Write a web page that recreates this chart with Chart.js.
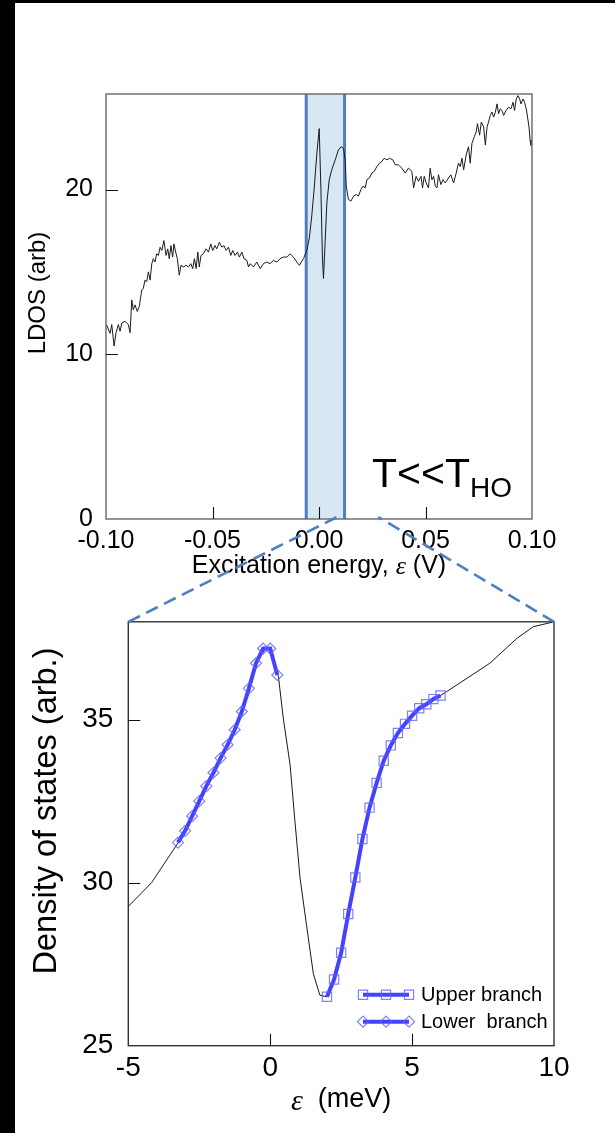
<!DOCTYPE html>
<html>
<head>
<meta charset="utf-8">
<script src="https://cdn.jsdelivr.net/npm/chart.js@4.4.1/dist/chart.umd.min.js"></script>
<style>
  html, body { margin: 0; padding: 0; background: #000; }
  #page { position: relative; width: 615px; height: 1133px; overflow: hidden; }
  #paper { position: absolute; left: 15px; top: 3px; right: 0; bottom: 0; background: #fff; }
  canvas { position: absolute; left: 0; }
  #ldos { top: 0; }
  #dos { top: 590px; }
  #links { top: 0; pointer-events: none; }
</style>
</head>
<body>
<div id="page">
  <div id="paper"></div>
  <canvas id="ldos" width="615" height="590"></canvas>
  <canvas id="dos" width="615" height="543"></canvas>
  <canvas id="links" width="615" height="1133"></canvas>
</div>
<script>
// LDOS over the wide bias range (V)
const ldosEnergy = [
  -0.0997, -0.0981, -0.0973, -0.0962, -0.0953, -0.0942, -0.0934, -0.0926, -0.0911, -0.0895,
  -0.0887, -0.0879, -0.0872, -0.0864, -0.0853, -0.0844, -0.0832, -0.0825, -0.0817, -0.0809,
  -0.0801, -0.0793, -0.0785, -0.0778, -0.0770, -0.0762, -0.0754, -0.0746, -0.0738, -0.0728,
  -0.0718, -0.0710, -0.0703, -0.0695, -0.0687, -0.0681, -0.0671, -0.0665, -0.0656, -0.0648,
  -0.0637, -0.0624, -0.0613, -0.0602, -0.0593, -0.0585, -0.0577, -0.0569, -0.0562, -0.0554,
  -0.0543, -0.0530, -0.0519, -0.0508, -0.0499, -0.0488, -0.0480, -0.0468, -0.0456, -0.0446,
  -0.0436, -0.0425, -0.0414, -0.0405, -0.0394, -0.0383, -0.0374, -0.0362, -0.0352, -0.0339,
  -0.0331, -0.0323, -0.0308, -0.0292, -0.0276, -0.0261, -0.0245, -0.0230, -0.0214, -0.0198,
  -0.0183, -0.0167, -0.0151, -0.0136, -0.0120, -0.0104, -0.0092, -0.0073, -0.0057, -0.0045,
  -0.0034, -0.0023, -0.0010, 0.0001, 0.0009, 0.0016, 0.0021, 0.0029, 0.0037, 0.0048,
  0.0060, 0.0076, 0.0091, 0.0104, 0.0115, 0.0123, 0.0128, 0.0138, 0.0150, 0.0162,
  0.0175, 0.0185, 0.0197, 0.0206, 0.0217, 0.0225, 0.0237, 0.0248, 0.0259, 0.0272,
  0.0284, 0.0295, 0.0306, 0.0319, 0.0331, 0.0347, 0.0358, 0.0373, 0.0389, 0.0405,
  0.0420, 0.0436, 0.0444, 0.0456, 0.0467, 0.0479, 0.0486, 0.0494, 0.0503, 0.0514,
  0.0522, 0.0530, 0.0538, 0.0546, 0.0554, 0.0561, 0.0572, 0.0582, 0.0593, 0.0608,
  0.0619, 0.0632, 0.0644, 0.0655, 0.0663, 0.0671, 0.0679, 0.0691, 0.0702, 0.0710,
  0.0718, 0.0729, 0.0738, 0.0744, 0.0754, 0.0762, 0.0773, 0.0781, 0.0789, 0.0796,
  0.0804, 0.0812, 0.0820, 0.0828, 0.0836, 0.0843, 0.0851, 0.0859, 0.0867, 0.0878,
  0.0890, 0.0901, 0.0911, 0.0918, 0.0926, 0.0934, 0.0942, 0.0948, 0.0958, 0.0965,
  0.0973, 0.0979, 0.0986, 0.0991, 0.0995, 0.1000
];
const ldosValue = [
  11.78, 11.27, 11.8, 10.5, 11.3, 11.8, 11.4, 11.9, 12.0, 11.8,
  11.3, 13.3, 12.7, 13.0, 12.6, 12.9, 13.9, 14.0, 14.5, 14.4,
  15.0, 14.5, 15.5, 15.8, 15.6, 16.1, 16.0, 16.5, 16.3, 16.9,
  16.0, 16.4, 15.8, 16.6, 15.9, 16.7, 16.1, 15.8, 14.8, 15.4,
  15.3, 15.4, 15.3, 15.5, 15.2, 15.8, 15.2, 16.2, 15.3, 16.0,
  16.1, 16.4, 16.2, 16.7, 16.3, 16.6, 16.4, 16.8, 16.5, 16.6,
  16.3, 16.5, 16.0, 16.3, 16.0, 16.2, 15.9, 16.2, 15.8, 15.7,
  15.3, 15.5, 15.3, 15.6, 15.2, 15.5, 15.6, 15.5, 15.7, 15.6,
  15.8, 15.9, 15.9, 16.1, 15.9, 15.6, 15.4, 15.8, 16.3, 17.1,
  18.4, 20.0, 22.2, 23.7, 20.0, 15.9, 14.6, 16.9, 19.2, 20.6,
  21.2, 21.8, 22.4, 22.6, 22.5, 21.8, 20.2, 19.4, 19.3, 19.6,
  19.7, 19.6, 20.0, 20.2, 20.1, 20.6, 20.7, 21.0, 21.1, 21.4,
  21.6, 21.7, 21.9, 21.8, 21.9, 21.8, 21.5, 21.5, 21.3, 21.0,
  21.3, 21.1, 20.1, 20.8, 20.5, 20.8, 20.1, 20.8, 20.4, 20.1,
  21.3, 20.6, 20.8, 20.2, 20.1, 20.9, 20.3, 20.6, 20.4, 20.7,
  20.9, 20.4, 21.0, 21.6, 21.4, 21.9, 21.2, 22.1, 22.6, 21.6,
  22.8, 23.2, 23.5, 24.0, 23.3, 24.1, 23.8, 22.7, 23.8, 24.1,
  24.5, 24.7, 24.4, 24.7, 25.2, 24.6, 24.9, 24.8, 24.5, 24.8,
  25.0, 24.9, 25.3, 24.8, 25.5, 25.7, 25.5, 25.2, 25.5, 25.3,
  24.9, 24.4, 23.8, 23.0, 22.7, 22.6
];
const energyTicks = [-0.10, -0.05, 0.00, 0.05, 0.10];
const ldosTicks = [0, 10, 20];
const bandEdges = [-0.006, 0.012];   // shaded window
const linkFrom = [0.0085, 0.0278];    // where the dashed connectors leave the upper axis

// Zoomed density of states (meV)
const dosEnergy = [
  -5, -4.18, -3.24, -2.5, -2.0, -1.5, -1.0, -0.5, -0.16, 0.0,
  0.29, 0.46, 0.70, 0.87, 1.05, 1.29, 1.52, 1.75, 1.99, 2.25,
  2.5, 2.75, 3.0, 3.25, 3.5, 3.75, 4.0, 4.5, 5.0, 5.5,
  6.0, 6.22, 7.74, 8.69, 9.27, 10
];
const dosValue = [
  29.27, 30.0, 31.23, 32.50, 33.37, 34.23, 35.25, 36.73, 37.18, 37.17,
  36.32, 35.05, 33.62, 31.9, 30.16, 28.63, 27.21, 26.55, 26.50, 27.0,
  27.85, 29.04, 30.16, 31.34, 32.30, 33.06, 33.74, 34.59, 35.12, 35.47,
  35.74, 35.86, 36.73, 37.49, 37.85, 38.0
];
const upperEnergy = [2.0, 2.25, 2.5, 2.75, 3.0, 3.25, 3.5, 3.75, 4.0, 4.25, 4.5, 4.75, 5.0, 5.25, 5.5, 5.75, 6.0];
const upperValue = [26.50, 27.03, 27.85, 29.04, 30.16, 31.34, 32.30, 33.06, 33.74, 34.21, 34.59, 34.87, 35.12, 35.35, 35.47, 35.63, 35.74];
const lowerEnergy = [-3.25, -3.0, -2.75, -2.5, -2.25, -2.0, -1.75, -1.5, -1.25, -1.0, -0.75, -0.5, -0.25, 0.0, 0.25];
const lowerValue = [31.23, 31.59, 32.04, 32.50, 32.96, 33.37, 33.82, 34.23, 34.69, 35.25, 35.96, 36.73, 37.18, 37.18, 36.37];
const dosXTicks = [-5, 0, 5, 10];
const dosYTicks = [25, 30, 35];

const pts = (xs, ys) => xs.map((x, i) => ({ x: x, y: ys[i] }));

const SANS = "'Liberation Sans', Arial, Helvetica, sans-serif";
const SERIF_I = "italic {s}px 'Liberation Serif', 'Times New Roman', serif";
Chart.defaults.font.family = SANS;
Chart.defaults.color = '#000';

// box around the plot plus inward tick marks
const frameTicks = {
  id: 'frameTicks',
  afterDraw(chart, args, opts) {
    const { ctx, chartArea: a } = chart;
    const { x, y } = chart.scales;
    ctx.save();
    ctx.strokeStyle = opts.frameColor;
    ctx.lineWidth = 1.4;
    ctx.strokeRect(a.left, a.top, a.right - a.left, a.bottom - a.top);
    ctx.strokeStyle = '#111';
    ctx.lineWidth = 1.1;
    ctx.beginPath();
    x.ticks.forEach(t => {
      const px = Math.round(x.getPixelForValue(t.value)) + 0.5;
      if (px > a.left + 2 && px < a.right - 2) { ctx.moveTo(px, a.bottom); ctx.lineTo(px, a.bottom - opts.len); }
    });
    y.ticks.forEach(t => {
      const py = Math.round(y.getPixelForValue(t.value)) + 0.5;
      if (py > a.top + 2 && py < a.bottom - 2) { ctx.moveTo(a.left, py); ctx.lineTo(a.left + opts.len, py); }
    });
    ctx.stroke();
    ctx.restore();
  }
};

// axis captions: rotated one on the left, mixed-font one under the x axis
const captions = {
  id: 'captions',
  afterDraw(chart, args, opts) {
    const { ctx, chartArea: a } = chart;
    ctx.save();
    ctx.fillStyle = '#000';
    ctx.textBaseline = 'middle';
    ctx.save();
    ctx.translate(opts.yX, opts.yY);
    ctx.rotate(-Math.PI / 2);
    ctx.font = opts.yFont;
    ctx.textAlign = 'center';
    ctx.fillText(opts.yText, 0, 0);
    ctx.restore();
    ctx.textAlign = 'left';
    const widths = opts.xParts.map(p => { ctx.font = p.font; return ctx.measureText(p.text).width; });
    let x = (a.left + a.right) / 2 - widths.reduce((s, w) => s + w, 0) / 2;
    opts.xParts.forEach((p, i) => {
      ctx.font = p.font;
      ctx.fillText(p.text, x, opts.xY + (p.dy || 0));
      x += widths[i];
    });
    ctx.restore();
  }
};

// shaded energy window behind the curve
const band = {
  id: 'band',
  beforeDatasetsDraw(chart) {
    const { ctx, chartArea: a } = chart;
    const x = chart.scales.x;
    const x0 = x.getPixelForValue(bandEdges[0]);
    const x1 = x.getPixelForValue(bandEdges[1]);
    ctx.save();
    ctx.fillStyle = '#d7e7f4';
    ctx.fillRect(x0, a.top, x1 - x0, a.bottom - a.top);
    ctx.strokeStyle = '#4f7fc0';
    ctx.lineWidth = 3;
    ctx.beginPath();
    ctx.moveTo(x0, a.top); ctx.lineTo(x0, a.bottom);
    ctx.moveTo(x1, a.top); ctx.lineTo(x1, a.bottom);
    ctx.stroke();
    ctx.restore();
  }
};

// temperature note in the lower right corner
const tempNote = {
  id: 'tempNote',
  afterDraw(chart) {
    const { ctx, chartArea: a } = chart;
    ctx.save();
    ctx.fillStyle = '#000';
    ctx.textBaseline = 'alphabetic';
    ctx.font = '41px ' + SANS;
    const main = 'T<<T';
    const x = a.right - 160, y = a.bottom - 32;
    ctx.fillText(main, x, y);
    const w = ctx.measureText(main).width;
    ctx.font = '28px ' + SANS;
    ctx.fillText('HO', x + w, y + 10);
    ctx.restore();
  }
};

// legend with a line sample and three markers per row
const branchLegend = {
  id: 'branchLegend',
  afterDraw(chart) {
    const { ctx, chartArea: a } = chart;
    const rows = [chart.data.datasets[1], chart.data.datasets[2]];
    ctx.save();
    rows.forEach((ds, i) => {
      const y = a.bottom - 51 + i * 27;
      const x0 = a.right - 191, x1 = a.right - 145;
      ctx.strokeStyle = ds.borderColor;
      ctx.lineWidth = ds.borderWidth;
      ctx.beginPath(); ctx.moveTo(x0, y); ctx.lineTo(x1, y); ctx.stroke();
      ctx.strokeStyle = ds.pointBorderColor;
      ctx.fillStyle = 'rgba(0,0,0,0)';
      ctx.lineWidth = ds.pointBorderWidth;
      [x0, (x0 + x1) / 2, x1].forEach(px => {
        Chart.helpers.drawPoint(ctx, { pointStyle: ds.pointStyle, rotation: 0, radius: ds.pointRadius, borderWidth: ds.pointBorderWidth }, px, y);
      });
      ctx.fillStyle = '#000';
      ctx.font = '20px ' + SANS;
      ctx.textBaseline = 'middle';
      ctx.fillText(ds.label, a.right - 133, y + 1);
    });
    ctx.restore();
  }
};

const ldosChart = new Chart(document.getElementById('ldos'), {
  type: 'scatter',
  data: {
    datasets: [{
      data: pts(ldosEnergy, ldosValue),
      showLine: true,
      borderColor: '#1a1a1a',
      borderWidth: 1,
      pointRadius: 0
    }]
  },
  options: {
    responsive: false,
    animation: false,
    events: [],
    layout: { padding: { left: 20, top: 94, right: 83, bottom: 0 } },
    plugins: {
      legend: { display: false },
      tooltip: { enabled: false },
      frameTicks: { len: 12, frameColor: '#666' },
      captions: {
        yText: 'LDOS (arb)', yX: 38, yY: 293, yFont: '24px ' + SANS,
        xY: 566,
        xParts: [
          { text: 'Excitation energy, ', font: '25px ' + SANS },
          { text: 'ε', font: SERIF_I.replace('{s}', 26), dy: 1 },
          { text: ' (V)', font: '25px ' + SANS }
        ]
      }
    },
    scales: {
      x: {
        type: 'linear', min: -0.1, max: 0.1,
        afterBuildTicks: s => { s.ticks = energyTicks.map(v => ({ value: v })); },
        afterFit: s => { s.height = 71; },
        grid: { display: false, drawTicks: false },
        border: { display: false },
        ticks: { padding: 7, maxRotation: 0, autoSkip: false, font: { size: 25 }, callback: v => v.toFixed(2) }
      },
      y: {
        type: 'linear', min: 0, max: 25.8,
        afterBuildTicks: s => { s.ticks = ldosTicks.map(v => ({ value: v })); },
        afterFit: s => { s.width = 86; },
        grid: { display: false, drawTicks: false },
        border: { display: false },
        ticks: { padding: 13, font: { size: 25 } }
      }
    }
  },
  plugins: [band, frameTicks, captions, tempNote]
});

const dosChart = new Chart(document.getElementById('dos'), {
  type: 'scatter',
  data: {
    datasets: [{
      data: pts(dosEnergy, dosValue),
      showLine: true,
      borderColor: '#1a1a1a',
      borderWidth: 1,
      pointRadius: 0,
      order: 3
    }, {
      label: 'Upper branch',
      data: pts(upperEnergy, upperValue),
      showLine: true,
      borderColor: '#4343ff',
      borderWidth: 4,
      pointStyle: 'rect',
      pointRadius: 6.5,
      pointBorderColor: 'rgba(95,95,255,0.8)',
      pointBackgroundColor: 'rgba(0,0,0,0)',
      pointBorderWidth: 1.2,
      order: 1
    }, {
      label: 'Lower  branch',
      data: pts(lowerEnergy, lowerValue),
      showLine: true,
      borderColor: '#4343ff',
      borderWidth: 4,
      pointStyle: 'rectRot',
      pointRadius: 5.5,
      pointBorderColor: 'rgba(95,95,255,0.8)',
      pointBackgroundColor: 'rgba(0,0,0,0)',
      pointBorderWidth: 1.2,
      order: 2
    }]
  },
  options: {
    responsive: false,
    animation: false,
    events: [],
    layout: { padding: { left: 20, top: 30, right: 61, bottom: 0 } },
    plugins: {
      legend: { display: false },
      tooltip: { enabled: false },
      frameTicks: { len: 12, frameColor: '#333' },
      captions: {
        yText: 'Density of states (arb.)', yX: 47, yY: 221, yFont: '32.5px ' + SANS,
        xY: 510,
        xParts: [
          { text: 'ε', font: SERIF_I.replace('{s}', 30), dy: 2 },
          { text: '  (meV)', font: '27px ' + SANS }
        ]
      }
    },
    scales: {
      x: {
        type: 'linear', min: -5, max: 10,
        afterBuildTicks: s => { s.ticks = dosXTicks.map(v => ({ value: v })); },
        afterFit: s => { s.height = 87.3; },
        grid: { display: false, drawTicks: false },
        border: { display: false },
        ticks: { padding: 6, maxRotation: 0, autoSkip: false, font: { size: 28 } }
      },
      y: {
        type: 'linear', min: 25, max: 38,
        afterBuildTicks: s => { s.ticks = dosYTicks.map(v => ({ value: v })); },
        afterFit: s => { s.width = 108.3; },
        grid: { display: false, drawTicks: false },
        border: { display: false },
        ticks: { padding: 15, font: { size: 28 } }
      }
    }
  },
  plugins: [frameTicks, captions, branchLegend]
});

// dashed connectors from the shaded window down to the zoomed panel
const links = document.getElementById('links').getContext('2d');
const dosTop = 590 + dosChart.chartArea.top;
const fromY = ldosChart.chartArea.bottom - 2;
links.strokeStyle = '#4f7fc0';
links.lineWidth = 2.6;
links.setLineDash([13, 7]);
links.beginPath();
links.moveTo(dosChart.chartArea.left, dosTop);
links.lineTo(ldosChart.scales.x.getPixelForValue(linkFrom[0]), fromY);
links.moveTo(dosChart.chartArea.right, dosTop);
links.lineTo(ldosChart.scales.x.getPixelForValue(linkFrom[1]), fromY);
links.stroke();
</script>
</body>
</html>
